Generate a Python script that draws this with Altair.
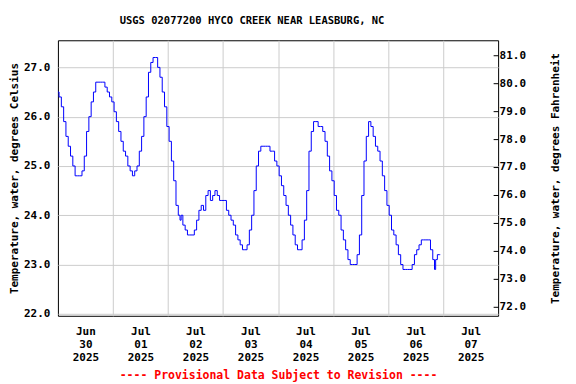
import altair as alt
import pandas as pd

TITLE = "USGS 02077200 HYCO CREEK NEAR LEASBURG, NC"
FOOTER = "---- Provisional Data Subject to Revision ----"
Y_TITLE_C = "Temperature, water, degrees Celsius"
Y_TITLE_F = "Temperature, water, degrees Fahrenheit"

# hourly readings (deg C), starting at 00:00 of each day
days = ["2025-06-30", "2025-07-01", "2025-07-02", "2025-07-03",
        "2025-07-04", "2025-07-05", "2025-07-06"]
jun30 = [26.5, 26.4, 26.2, 25.9, 25.6, 25.4, 25.2, 25.0, 24.8, 24.8, 24.8, 24.9,
         25.2, 25.7, 26.0, 26.3, 26.5, 26.7, 26.7, 26.7, 26.7, 26.6, 26.5, 26.4]
jul01 = [26.3, 26.1, 25.9, 25.7, 25.5, 25.3, 25.2, 25.0, 24.9, 24.8, 24.9, 25.0,
         25.3, 25.6, 26.0, 26.4, 26.9, 27.1, 27.2, 27.2, 27.0, 26.8, 26.5, 26.2]
jul02 = [25.8, 25.5, 25.1, 24.7, 24.2, 24.0, 24.0, 23.8, 23.7, 23.6, 23.6, 23.6,
         23.7, 23.9, 24.1, 24.2, 24.1, 24.4, 24.5, 24.3, 24.4, 24.5, 24.4, 24.3]
jul03 = [24.3, 24.3, 24.1, 24.0, 23.9, 23.8, 23.6, 23.5, 23.4, 23.3, 23.3, 23.4,
         23.7, 24.0, 24.5, 25.0, 25.3, 25.4, 25.4, 25.4, 25.4, 25.3, 25.3, 25.1]
jul04 = [25.0, 24.8, 24.6, 24.4, 24.2, 24.0, 23.8, 23.6, 23.4, 23.3, 23.3, 23.5,
         23.9, 24.5, 25.3, 25.7, 25.9, 25.9, 25.8, 25.8, 25.7, 25.5, 25.2, 24.9]
jul05 = [24.7, 24.4, 24.1, 24.0, 23.7, 23.5, 23.3, 23.1, 23.0, 23.0, 23.0, 23.2,
         23.6, 24.4, 25.1, 25.6, 25.9, 25.8, 25.6, 25.4, 25.3, 25.1, 24.8, 24.5]
jul06 = [24.2, 24.0, 23.7, 23.6, 23.4, 23.2, 23.0, 22.9, 22.9, 22.9, 22.9, 23.0,
         23.2, 23.3, 23.4, 23.5, 23.5, 23.5, 23.5, 23.3, 23.1, 23.1, 23.2]
daily = [jun30, jul01, jul02, jul03, jul04, jul05, jul06]

# extra (non-hourly) readings
extra_times = ["2025-07-02T05:30:00", "2025-07-06T20:30:00", "2025-07-06T22:45:00"]
extra_temps = [23.9, 22.9, 23.2]

c_ticks = [22.0, 23.0, 24.0, 25.0, 26.0, 27.0]
f_ticks = [72.0, 73.0, 74.0, 75.0, 76.0, 77.0, 78.0, 79.0, 80.0, 81.0]
c_domain = [21.96, 27.55]
f_domain = [71.67, 81.54]

rows = []
for day, vals in zip(days, daily):
    for h, v in enumerate(vals):
        rows.append({"time": f"{day}T{h:02d}:00:00", "temp_c": v})
for t, v in zip(extra_times, extra_temps):
    rows.append({"time": t, "temp_c": v})
df = pd.DataFrame(rows).sort_values("time").reset_index(drop=True)

FONT = "DejaVu Sans Mono"
GRID = "#cccccc"

x_scale = alt.Scale(domain=[alt.DateTime(year=2025, month=6, date=30),
                            alt.DateTime(year=2025, month=7, date=8)])
midnights = [alt.DateTime(year=2025, month=7, date=d) for d in range(1, 8)]
noons = [alt.DateTime(year=2025, month=6, date=30, hours=12)] + \
        [alt.DateTime(year=2025, month=7, date=d, hours=12) for d in range(1, 8)]

line = alt.Chart(df).mark_line(color="#0000ff", strokeWidth=1, interpolate="step", clip=True).encode(
    x=alt.X("time:T", scale=x_scale, title=None,
            axis=alt.Axis(orient="top", values=midnights, grid=True, gridColor=GRID,
                          gridWidth=1, labels=False, ticks=False, domain=False)),
    y=alt.Y("temp_c:Q", scale=alt.Scale(domain=c_domain, nice=False, zero=False),
            title=Y_TITLE_C,
            axis=alt.Axis(orient="left", values=c_ticks, format=".1f", grid=True,
                          gridColor=GRID, gridWidth=1, ticks=False, domain=False,
                          labelPadding=8, titlePadding=4, titleFontSize=11)),
)

fahr = alt.Chart(df).transform_calculate(
    temp_f="datum.temp_c * 1.8 + 32"
).mark_line(opacity=0).encode(
    x=alt.X("time:T", scale=x_scale, title=FOOTER,
            axis=alt.Axis(orient="bottom", values=noons, grid=False, ticks=False, domain=False,
                          labelExpr="[timeFormat(datum.value, '%b'), timeFormat(datum.value, '%d'), timeFormat(datum.value, '%Y')]",
                          labelLineHeight=12.7, labelPadding=10, labelAlign="center",
                          titleColor="#ff0000", titlePadding=7)),
    y=alt.Y("temp_f:Q", scale=alt.Scale(domain=f_domain, nice=False, zero=False),
            title=Y_TITLE_F,
            axis=alt.Axis(orient="right", values=f_ticks, format=".1f", grid=False,
                          ticks=True, tickSize=5, tickColor="black", offset=-5, domain=False,
                          labelPadding=1, titleAngle=270, titlePadding=35, titleFontSize=11)),
)

chart = alt.layer(line, fahr).resolve_scale(
    y="independent"
).resolve_axis(
    x="independent", y="independent"
).properties(
    width=441, height=276,
    title=alt.TitleParams(TITLE, font=FONT, fontSize=10.5, fontWeight="bold",
                          anchor="middle", dx=-26, offset=14, color="black"),
    autosize=alt.AutoSizeParams(type="none"),
    padding={"left": 50, "top": 32, "right": 70, "bottom": 66},
).configure_view(
    stroke="black", strokeWidth=1
).configure_axis(
    labelFont=FONT, labelFontSize=11, labelFontWeight="bold", labelColor="black",
    titleFont=FONT, titleFontSize=11.5, titleFontWeight="bold", titleColor="black"
)

chart.save("out.html", embed_options={"renderer": "svg", "actions": False})
